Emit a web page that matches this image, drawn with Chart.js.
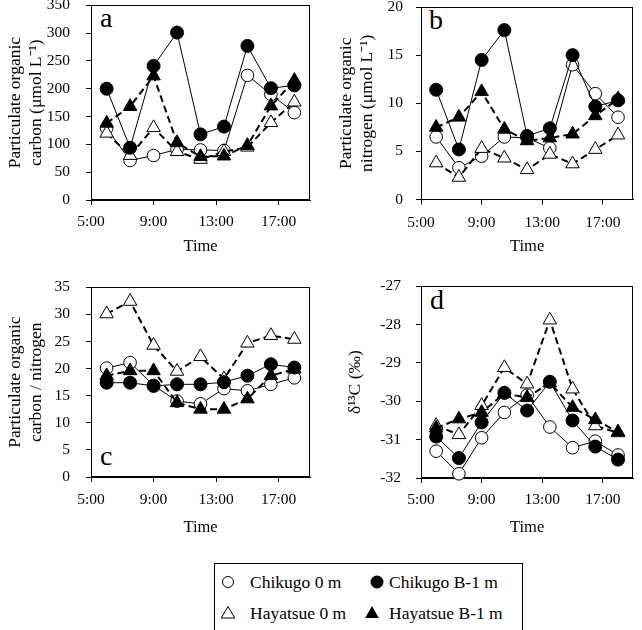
<!DOCTYPE html>
<html><head><meta charset="utf-8">
<script src="https://cdn.jsdelivr.net/npm/chart.js@4.4.1/dist/chart.umd.min.js"></script>
<style>
html,body{margin:0;padding:0;background:#fff;}
body{width:642px;height:630px;position:relative;overflow:hidden;font-family:'Liberation Serif','Times New Roman',serif;color:#000;}
canvas{position:absolute;}
.lbl{position:absolute;font-size:28px;line-height:28px;}
#legend{position:absolute;left:214px;top:563px;width:307px;height:90px;border:1px solid #000;}
.item{position:absolute;font-size:17.5px;line-height:20px;white-space:nowrap;}
svg{position:absolute;overflow:visible;}
</style></head><body>
<div class="lbl" style="left:100px;top:3.5px">a</div>
<div class="lbl" style="left:429px;top:6px">b</div>
<div class="lbl" style="left:100px;top:441.5px">c</div>
<div class="lbl" style="left:430px;top:285.5px">d</div>
<div id="legend"></div>
<div class="item" style="left:250px;top:572px">Chikugo 0 m</div>
<div class="item" style="left:389px;top:572px">Chikugo B-1 m</div>
<div class="item" style="left:250px;top:603px">Hayatsue 0 m</div>
<div class="item" style="left:389px;top:603px">Hayatsue B-1 m</div>
<svg style="left:0;top:0" width="642" height="630">
  <circle cx="228" cy="582" r="5.5" fill="#fff" stroke="#000" stroke-width="1"/>
  <circle cx="377" cy="582" r="6.5" fill="#000"/>
  <polygon points="228,606.5 234.8,618 221.2,618" fill="#fff" stroke="#000" stroke-width="1"/>
  <polygon points="372,606 378.8,618 365.2,618" fill="#000"/>
</svg>
<script>
// ---- data ----
const times = [6, 7.5, 9, 10.5, 12, 13.5, 15, 16.5, 18];
const xTickValues = [5, 9, 13, 17];
const xTickLabels = ['5:00', '9:00', '13:00', '17:00'];
const seriesNames = ['Chikugo 0 m', 'Chikugo B-1 m', 'Hayatsue 0 m', 'Hayatsue B-1 m'];

// a: particulate organic carbon (umol/L)
const pocChikugo0  = [129, 71, 80, 91, 90, 89, 224, 190, 157];
const pocChikugoB1 = [200, 94, 241, 301, 118, 132, 277, 201, 206];
const pocHayatsue0 = [120, 80, 130, 87, 73, 87, 95, 139, 176];
const pocHayatsueB1= [138, 168, 223, 103, 78, 79, 98, 169, 215];
const pocYTicks = [0, 50, 100, 150, 200, 250, 300, 350];

// b: particulate organic nitrogen (umol/L)
const ponChikugo0  = [6.5, 3.3, 4.5, 6.5, 6.4, 5.35, 14.0, 11.0, 8.55];
const ponChikugoB1 = [11.4, 5.2, 14.5, 17.6, 6.6, 7.4, 15.0, 9.65, 10.3];
const ponHayatsue0 = [3.8, 2.3, 5.3, 4.3, 3.1, 4.7, 3.7, 5.2, 6.7];
const ponHayatsueB1= [7.5, 8.55, 11.2, 7.3, 6.1, 6.4, 6.8, 8.7, 10.45];
const ponYTicks = [0, 5, 10, 15, 20];

// c: C/N ratio
const cnChikugo0  = [20.1, 21.1, 16.9, 14.0, 13.5, 16.3, 15.9, 17.1, 18.3];
const cnChikugoB1 = [17.4, 17.4, 16.8, 17.1, 17.1, 17.5, 18.7, 20.8, 20.2];
const cnHayatsue0 = [30.1, 32.4, 24.3, 19.5, 22.2, 18.1, 24.7, 26.1, 25.4];
const cnHayatsueB1= [18.7, 19.6, 19.6, 13.7, 12.5, 12.5, 14.4, 18.7, 19.9];
const cnYTicks = [0, 5, 10, 15, 20, 25, 30, 35];

// d: delta13C (permil)
const d13cChikugo0  = [-31.3, -31.89, -30.95, -30.29, -29.84, -30.67, -31.21, -31.04, -31.4];
const d13cChikugoB1 = [-30.92, -31.48, -30.55, -29.78, -30.24, -29.49, -30.5, -31.18, -31.52];
const d13cHayatsue0 = [-30.63, -30.87, -30.11, -29.12, -29.55, -27.88, -29.68, -30.64, -30.82];
const d13cHayatsueB1= [-30.7, -30.46, -30.29, -29.8, -29.9, -29.52, -30.16, -30.48, -30.8];
const d13cYTicks = [-32, -31, -30, -29, -28, -27];

// ---- styles ----
const FONT = "'Liberation Serif', 'Times New Roman', serif";
const styles = [
  {ps:'circle',   r:6.3, bg:'#fff', dash:[],    bw:1, order:3},
  {ps:'circle',   r:6.5, bg:'#000', dash:[],    bw:1, order:1},
  {ps:'triangle', r:7.8, bg:'#fff', dash:[7,4], bw:2, order:2},
  {ps:'triangle', r:7.8, bg:'#000', dash:[7,4], bw:2, order:0}
];
const TICK = 15.5, TITLE = 17.5, TIME = 16.5;

const framePlugin = {
  id: 'frame',
  beforeDatasetsDraw(chart) {
    const {ctx, chartArea: a} = chart;
    ctx.save();
    ctx.strokeStyle = '#000';
    ctx.lineWidth = 1;
    const L = Math.round(a.left) + 0.5, T = Math.round(a.top) + 0.5;
    const R = Math.round(a.right) - 0.5, B = Math.round(a.bottom) - 0.5;
    ctx.strokeRect(L, T, R - L, B - T);
    ctx.restore();
  }
};

function makeChart(c) {
  const cv = document.createElement('canvas');
  cv.width = c.canvas.w; cv.height = c.canvas.h;
  cv.style.left = c.canvas.x + 'px'; cv.style.top = c.canvas.y + 'px';
  cv.style.width = c.canvas.w + 'px'; cv.style.height = c.canvas.h + 'px';
  document.body.appendChild(cv);
  const l = c.area.L - c.canvas.x, t = c.area.T - c.canvas.y;
  const r = c.area.R - c.canvas.x, b = c.area.B - c.canvas.y;
  const xH = c.canvas.h - b;
  new Chart(cv, {
    type: 'line',
    data: {
      datasets: c.series.map((vals, i) => ({
        label: seriesNames[i],
        data: times.map((tm, j) => ({x: tm, y: vals[j]})),
        borderColor: '#000',
        borderWidth: styles[i].bw,
        borderDash: styles[i].dash,
        backgroundColor: styles[i].bg,
        pointStyle: styles[i].ps,
        pointRadius: styles[i].r,
        pointBackgroundColor: styles[i].bg,
        pointBorderColor: '#000',
        pointBorderWidth: 1,
        tension: 0,
        fill: false,
        clip: false,
        order: styles[i].order
      }))
    },
    options: {
      responsive: false, animation: false, devicePixelRatio: 1,
      layout: {padding: {left: 0, top: t, right: c.canvas.w - r, bottom: 0}},
      plugins: {legend: {display: false}, tooltip: {enabled: false}},
      scales: {
        x: {
          type: 'linear', min: 5, max: 19,
          afterBuildTicks: s => { s.ticks = xTickValues.map(v => ({value: v})); },
          afterFit: s => { s.height = xH; },
          ticks: {
            callback: (v, i) => xTickLabels[i],
            font: {family: FONT, size: TICK}, color: '#000',
            padding: c.xLabelOff - 5 - TICK * 0.6,
            maxRotation: 0, autoSkip: false
          },
          grid: {drawOnChartArea: false, tickLength: 5, color: '#000', lineWidth: 1},
          border: {color: '#000', width: 1},
          title: {
            display: true, text: 'Time', color: '#000',
            font: {family: FONT, size: TIME},
            padding: {top: 0, bottom: xH - c.timeOff - TIME * 0.6}
          }
        },
        y: {
          type: 'linear', min: c.yTicks[0], max: c.yTicks[c.yTicks.length - 1],
          afterBuildTicks: s => { s.ticks = c.yTicks.map(v => ({value: v})); },
          afterFit: s => { s.width = l; },
          ticks: {
            callback: (v, i) => String(c.yTicks[i]),
            font: {family: FONT, size: TICK}, color: '#000',
            padding: c.tickGap - 5, autoSkip: false
          },
          grid: {drawOnChartArea: false, tickLength: 5, color: '#000', lineWidth: 1},
          border: {color: '#000', width: 1},
          title: {
            display: true, text: c.title, color: '#000',
            font: {family: FONT, size: TITLE, lineHeight: 1.2},
            padding: {top: c.titleX - c.canvas.x - TITLE * 0.6, bottom: 0}
          }
        }
      }
    },
    plugins: [framePlugin]
  });
}

makeChart({
  canvas: {x: 0, y: -20, w: 321, h: 290},
  area: {L: 91, T: 5, R: 310, B: 200},
  yTicks: pocYTicks,
  series: [pocChikugo0, pocChikugoB1, pocHayatsue0, pocHayatsueB1],
  title: ['Particulate organic', 'carbon (μmol L⁻¹)'],
  titleX: 15, tickGap: 21, xLabelOff: 22, timeOff: 47
});
makeChart({
  canvas: {x: 321, y: -20, w: 321, h: 290},
  area: {L: 421, T: 7, R: 639, B: 199.5},
  yTicks: ponYTicks,
  series: [ponChikugo0, ponChikugoB1, ponHayatsue0, ponHayatsueB1],
  title: ['Particulate organic', 'nitrogen (μmol L⁻¹)'],
  titleX: 346, tickGap: 18, xLabelOff: 23, timeOff: 47
});
makeChart({
  canvas: {x: 0, y: 262, w: 321, h: 290},
  area: {L: 91, T: 283, R: 310, B: 477},
  yTicks: cnYTicks,
  series: [cnChikugo0, cnChikugoB1, cnHayatsue0, cnHayatsueB1],
  title: ['Particulate organic', 'carbon / nitrogen'],
  titleX: 15, tickGap: 21, xLabelOff: 23, timeOff: 51
});
makeChart({
  canvas: {x: 321, y: 262, w: 321, h: 290},
  area: {L: 421, T: 284, R: 639, B: 478},
  yTicks: d13cYTicks,
  series: [d13cChikugo0, d13cChikugoB1, d13cHayatsue0, d13cHayatsueB1],
  title: 'δ¹³C (‰)',
  titleX: 355, tickGap: 20, xLabelOff: 22, timeOff: 50
});
</script>
</body></html>
